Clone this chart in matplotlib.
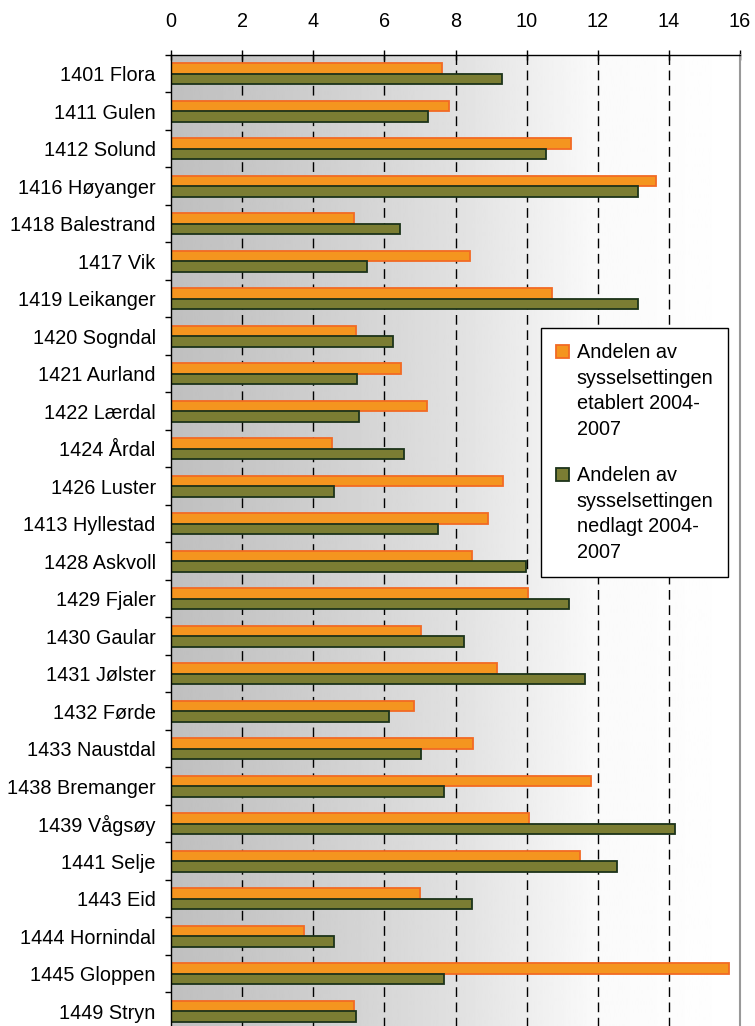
import numpy as np
import matplotlib
matplotlib.use("Agg")
import matplotlib.pyplot as plt
from matplotlib.patches import Rectangle
from matplotlib.legend_handler import HandlerPatch

plt.rcParams['font.family'] = ['Liberation Sans', 'DejaVu Sans']

kommuner = [
    "1401 Flora", "1411 Gulen", "1412 Solund", "1416 Høyanger", "1418 Balestrand",
    "1417 Vik", "1419 Leikanger", "1420 Sogndal", "1421 Aurland", "1422 Lærdal",
    "1424 Årdal", "1426 Luster", "1413 Hyllestad", "1428 Askvoll", "1429 Fjaler",
    "1430 Gaular", "1431 Jølster", "1432 Førde", "1433 Naustdal", "1438 Bremanger",
    "1439 Vågsøy", "1441 Selje", "1443 Eid", "1444 Hornindal", "1445 Gloppen",
    "1449 Stryn",
]
etablert = [
    7.61, 7.83, 11.24, 13.63, 5.15, 8.41, 10.71, 5.20, 6.46, 7.20,
    4.53, 9.34, 8.92, 8.46, 10.03, 7.03, 9.17, 6.83, 8.50, 11.81,
    10.07, 11.49, 6.99, 3.73, 15.69, 5.15,
]
nedlagt = [
    9.30, 7.24, 10.54, 13.12, 6.45, 5.52, 13.12, 6.25, 5.24, 5.30,
    6.56, 4.57, 7.51, 9.99, 11.18, 8.23, 11.65, 6.13, 7.03, 7.67,
    14.16, 12.55, 8.45, 4.57, 7.67, 5.20,
]
xticks = [0, 2, 4, 6, 8, 10, 12, 14, 16]
lab_etablert = "Andelen av\nsysselsettingen\netablert 2004-\n2007"
lab_nedlagt = "Andelen av\nsysselsettingen\nnedlagt 2004-\n2007"

FS = 14.3
LSP = 1.45  # line spacing inside legend labels


class TopSquare(HandlerPatch):
    # legend marker next to the first of the 4 text lines, not centred
    def create_artists(self, legend, orig_handle, xdescent, ydescent,
                       width, height, fontsize, trans):
        sq = 0.65 * fontsize
        yc = (1.5 * LSP * 0.893 + 0.433) * fontsize
        r = Rectangle((-xdescent, yc - sq / 2), sq, sq,
                      facecolor=orig_handle.get_facecolor(),
                      edgecolor=orig_handle.get_edgecolor(),
                      linewidth=1.3, transform=trans)
        return [r]


fig = plt.figure(figsize=(7.55, 10.26), dpi=100)
ax = fig.add_axes([171 / 755, -4 / 1026, (740 - 171) / 755, (1030 - 55) / 1026])

n = len(kommuner)
pos = np.arange(n)
h = 0.285

# gray -> white gradient background
grad_x = np.linspace(0, 16, 400)
grad_v = np.interp(grad_x, [0, 3, 8, 12, 16], [0.75, 0.79, 0.88, 0.98, 1.0])
ax.imshow(grad_v[np.newaxis, :], cmap='gray', vmin=0, vmax=1, aspect='auto',
          extent=(0, 16, n - 0.5, -0.5), zorder=0, interpolation='bilinear')

for x in xticks[1:-1]:
    ax.axvline(x, color='black', lw=1.0, linestyle=(0, (7, 4)), zorder=1)

b1 = ax.barh(pos - h / 2, etablert, height=h, color='#F4951F', edgecolor='#F26A24',
             linewidth=1.3, zorder=2)
b2 = ax.barh(pos + h / 2, nedlagt, height=h, color='#7B7D33', edgecolor='#1C331A',
             linewidth=1.3, zorder=2)

ax.set_xlim(0, 16)
ax.set_ylim(n - 0.5, -0.5)
ax.set_xticks(xticks)
ax.xaxis.tick_top()
ax.tick_params(axis='x', direction='inout', length=7, width=1, pad=13.5, labelsize=FS)
ax.set_yticks(pos)
ax.set_yticklabels(kommuner)
ax.set_yticks(np.arange(n + 1) - 0.5, minor=True)
ax.tick_params(axis='y', which='major', length=0, pad=11, labelsize=FS)
ax.tick_params(axis='y', which='minor', length=4, width=1)
ax.tick_params(axis='x', which='minor', length=0)

ax.spines['right'].set_color('#999999')
ax.spines['right'].set_linewidth(1.5)
ax.spines['bottom'].set_visible(False)
for s in ['left', 'top']:
    ax.spines[s].set_linewidth(1.0)

leg = ax.legend([b1.patches[0], b2.patches[0]], [lab_etablert, lab_nedlagt],
                loc='upper left', bbox_to_anchor=(541 / 755, 1 - 328 / 1026),
                bbox_transform=fig.transFigure, fontsize=FS, frameon=True,
                fancybox=False, edgecolor='black', framealpha=1, labelspacing=1.35,
                handlelength=0.75, handleheight=0.7, handletextpad=0.3,
                borderpad=0.75, borderaxespad=0,
                handler_map={Rectangle: TopSquare()})
leg.get_frame().set_linewidth(1.0)
for t in leg.get_texts():
    t.set_linespacing(LSP)

fig.savefig("out.png", dpi=100)
